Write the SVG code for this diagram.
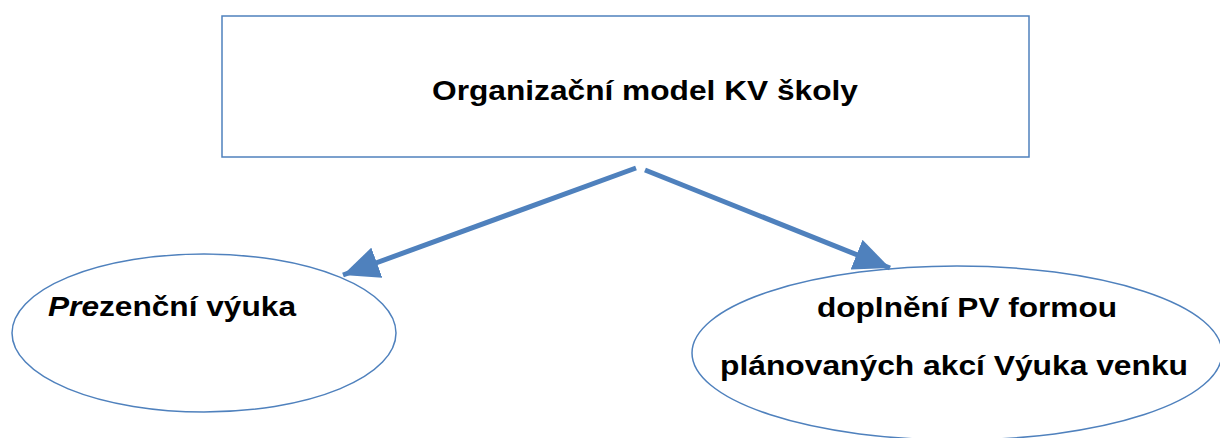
<svg xmlns="http://www.w3.org/2000/svg" width="1220" height="438" viewBox="0 0 1220 438">
<style>
.shape{fill:#fff;stroke:#4f81bd;stroke-width:1.5}
.t{font-family:"Liberation Sans",Arial,sans-serif;font-weight:bold;font-size:28px;fill:#000}
.conn{stroke:#4f81bd;stroke-width:5;fill:none}
</style>
<defs>
<marker id="ah" markerUnits="userSpaceOnUse" markerWidth="38" markerHeight="32" refX="36" refY="16" orient="auto">
<path d="M0,0 L36,16 L0,32 Z" fill="#4f81bd"/>
</marker>
</defs>
<rect width="1220" height="438" fill="#fff"/>
<g id="top">
<rect class="shape" x="222" y="16" width="807" height="141"/>
<text class="t" x="432" y="100" font-size="33" textLength="426" lengthAdjust="spacingAndGlyphs">Organizační model KV školy</text>
</g>
<g id="left">
<ellipse class="shape" cx="204" cy="333" rx="192" ry="79"/>
<text class="t" x="48" y="316" textLength="248" lengthAdjust="spacingAndGlyphs"><tspan font-style="italic">Pre</tspan>zenční výuka</text>
</g>
<g id="right">
<ellipse class="shape" cx="957" cy="353" rx="265" ry="87"/>
<text class="t" x="817" y="317" textLength="300" lengthAdjust="spacingAndGlyphs">doplnění PV formou</text>
<text class="t" x="720" y="375" textLength="468" lengthAdjust="spacingAndGlyphs">plánovaných akcí Výuka venku</text>
</g>
<g id="connectors">
<line class="conn" x1="636" y1="168" x2="343" y2="275" marker-end="url(#ah)"/>
<line class="conn" x1="645" y1="170" x2="890" y2="268" marker-end="url(#ah)"/>
</g>
</svg>
